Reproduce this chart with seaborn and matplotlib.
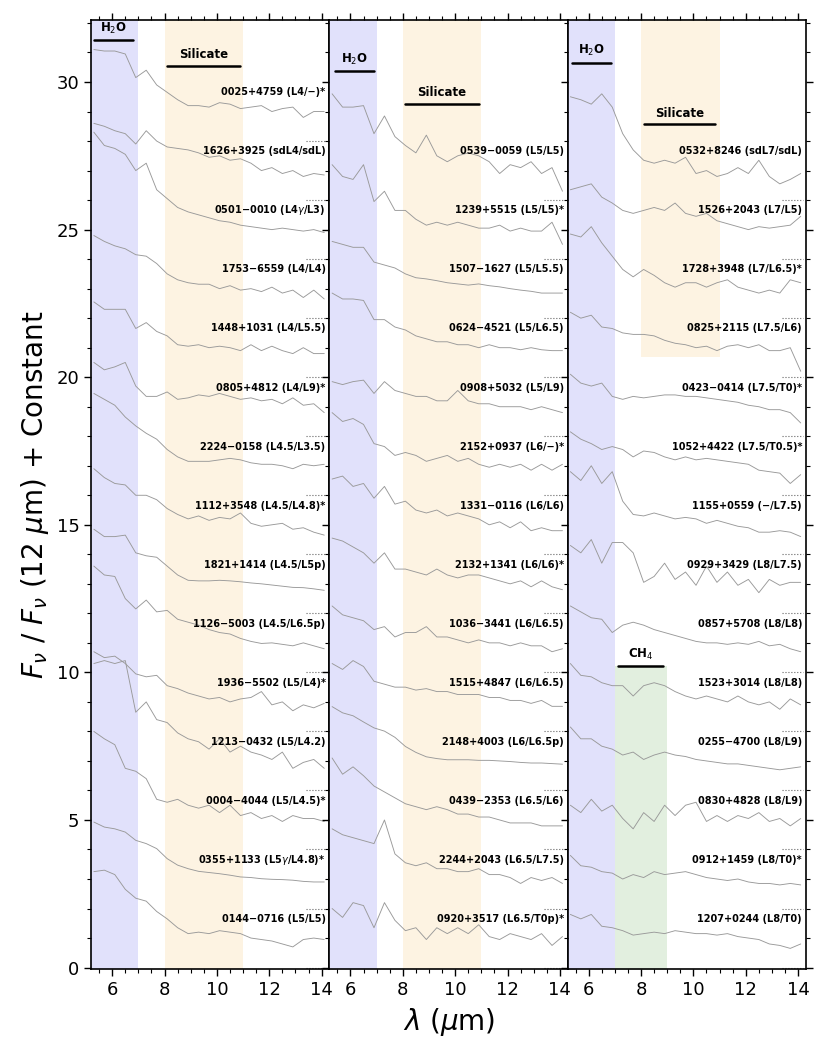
import numpy as np
import seaborn as sns
import matplotlib.pyplot as plt
from matplotlib.ticker import MultipleLocator

# wavelength grid (micron) shared by every spectrum
wave = [5.3, 5.7, 6.1, 6.5, 6.9, 7.3, 7.7, 8.1, 8.5, 8.9, 9.3, 9.7,
        10.1, 10.5, 10.9, 11.3, 11.7, 12.1, 12.5, 12.9, 13.3, 13.7, 14.1]

# panel 1, top to bottom (normalised flux, before the offset)
names_1 = ['0025+4759 (L4/\u2212)*', '1626+3925 (sdL4/sdL)', '0501\u22120010 (L4$\\gamma$/L3)',
           '1753\u22126559 (L4/L4)', '1448+1031 (L4/L5.5)', '0805+4812 (L4/L9)*',
           '2224\u22120158 (L4.5/L3.5)', '1112+3548 (L4.5/L4.8)*', '1821+1414 (L4.5/L5p)',
           '1126\u22125003 (L4.5/L6.5p)', '1936\u22125502 (L5/L4)*', '1213\u22120432 (L5/L4.2)',
           '0004\u22124044 (L5/L4.5)*', '0355+1133 (L5$\\gamma$/L4.8)*', '0144\u22120716 (L5/L5)']
flux_1 = [
    [3.1, 3.05, 3.05, 2.95, 2.15, 2.4, 1.9, 1.65, 1.4, 1.2, 1.2, 1.15, 1.3, 1.25, 1.1, 1.15, 1.2, 1.0, 1.1, 1.15, 0.8, 1.0, 1.0],
    [2.6, 2.5, 2.35, 2.25, 1.9, 2.35, 2.0, 1.8, 1.75, 1.7, 1.6, 1.45, 1.5, 1.35, 1.4, 1.25, 1.0, 1.1, 0.9, 1.0, 0.8, 0.9, 0.85],
    [4.3, 3.85, 3.75, 3.55, 3.0, 3.25, 2.35, 2.05, 1.75, 1.6, 1.5, 1.4, 1.3, 1.25, 1.15, 1.1, 1.05, 1.0, 1.05, 1.0, 0.95, 1.0, 0.9],
    [2.8, 2.6, 2.45, 2.35, 2.15, 2.1, 1.85, 1.5, 1.3, 1.2, 1.15, 1.15, 1.0, 1.1, 0.95, 1.0, 0.9, 1.05, 0.85, 0.95, 0.7, 0.95, 0.65],
    [2.55, 2.3, 2.3, 2.3, 1.65, 1.85, 1.55, 1.4, 1.1, 1.05, 1.1, 1.0, 1.05, 1.0, 0.9, 1.1, 0.9, 1.05, 0.9, 0.8, 1.0, 0.8, 0.8],
    [2.5, 2.25, 2.35, 2.5, 1.7, 1.35, 1.35, 1.5, 1.25, 1.3, 1.4, 1.35, 1.45, 1.35, 1.25, 1.3, 1.2, 1.25, 1.1, 1.3, 1.05, 1.1, 0.8],
    [3.45, 3.25, 3.05, 2.65, 2.35, 2.1, 1.9, 1.55, 1.3, 1.15, 1.15, 1.15, 1.2, 1.25, 1.2, 1.1, 1.05, 1.05, 1.0, 0.9, 1.05, 1.0, 1.05],
    [2.9, 2.6, 2.4, 2.35, 2.0, 2.0, 1.85, 1.55, 1.35, 1.2, 1.3, 1.15, 1.25, 1.2, 1.4, 1.05, 0.95, 1.0, 1.05, 0.85, 0.9, 0.75, 0.65],
    [2.85, 2.6, 2.6, 2.65, 2.05, 1.95, 1.9, 1.6, 1.3, 1.12, 1.1, 1.1, 1.12, 1.1, 1.07, 1.03, 1.0, 0.96, 0.92, 0.88, 0.87, 0.83, 0.78],
    [3.6, 3.3, 3.25, 2.5, 2.15, 2.45, 2.05, 2.1, 1.8, 1.7, 1.6, 1.45, 1.35, 1.3, 1.15, 1.05, 0.98, 1.0, 0.95, 0.9, 1.0, 0.9, 0.8],
    [2.7, 2.5, 2.55, 2.3, 1.95, 1.85, 1.9, 1.55, 1.45, 1.3, 1.2, 1.1, 1.15, 1.0, 1.1, 1.15, 1.35, 0.9, 1.0, 0.7, 0.9, 0.8, 0.95],
    [4.3, 4.4, 4.3, 4.4, 2.65, 3.0, 2.4, 2.3, 1.95, 1.75, 1.65, 1.4, 1.75, 1.3, 1.5, 1.3, 1.2, 1.05, 1.3, 0.75, 0.95, 1.05, 0.75],
    [4.0, 3.75, 3.55, 2.75, 2.65, 2.4, 1.7, 1.6, 1.7, 1.5, 1.4, 1.5, 1.25, 1.5, 1.15, 1.25, 1.05, 1.15, 0.95, 1.15, 1.05, 1.05, 0.95],
    [2.93, 2.76, 2.7, 2.59, 2.31, 2.2, 2.03, 1.69, 1.47, 1.35, 1.26, 1.22, 1.18, 1.13, 1.07, 1.05, 1.01, 0.99, 0.98, 0.96, 0.92, 0.9, 0.9],
    [3.25, 3.3, 3.15, 2.65, 2.35, 2.25, 1.9, 1.65, 1.35, 1.15, 1.2, 1.15, 1.25, 1.2, 1.15, 1.0, 0.95, 0.9, 0.8, 0.7, 0.95, 1.0, 0.95],
]

# panel 2
names_2 = ['0539\u22120059 (L5/L5)', '1239+5515 (L5/L5)*', '1507\u22121627 (L5/L5.5)',
           '0624\u22124521 (L5/L6.5)', '0908+5032 (L5/L9)', '2152+0937 (L6/\u2212)*',
           '1331\u22120116 (L6/L6)', '2132+1341 (L6/L6)*', '1036\u22123441 (L6/L6.5)',
           '1515+4847 (L6/L6.5)', '2148+4003 (L6/L6.5p)', '0439\u22122353 (L6.5/L6)',
           '2244+2043 (L6.5/L7.5)', '0920+3517 (L6.5/T0p)*']
flux_2 = [
    [3.6, 3.15, 3.15, 3.2, 2.25, 2.85, 2.15, 1.85, 1.6, 2.2, 1.5, 1.3, 1.5, 1.6, 1.5, 1.3, 0.9, 1.2, 1.1, 1.3, 0.9, 1.1, 0.3],
    [3.2, 2.8, 2.7, 3.2, 1.95, 2.3, 1.65, 1.65, 1.35, 1.15, 1.25, 1.15, 1.25, 1.15, 1.05, 1.05, 1.15, 0.95, 1.05, 0.95, 0.95, 1.25, 0.5],
    [2.6, 2.5, 2.4, 2.4, 1.9, 1.8, 1.7, 1.5, 1.37, 1.33, 1.27, 1.2, 1.16, 1.12, 1.16, 1.1, 1.06, 1.0, 0.95, 0.91, 0.85, 0.85, 0.85],
    [2.85, 2.65, 2.65, 2.6, 1.95, 1.95, 1.7, 1.6, 1.4, 1.3, 1.2, 1.2, 1.1, 1.1, 1.0, 1.1, 1.0, 1.0, 0.93, 1.0, 0.93, 0.9, 0.9],
    [1.85, 1.75, 1.85, 1.9, 1.45, 1.85, 1.55, 1.45, 1.35, 1.35, 1.2, 1.2, 1.55, 1.2, 1.1, 1.1, 1.0, 1.0, 1.0, 0.9, 1.0, 0.9, 0.8],
    [2.8, 2.5, 2.6, 2.4, 1.75, 1.65, 1.35, 1.45, 1.35, 1.15, 1.25, 1.35, 1.15, 1.25, 1.05, 0.95, 1.05, 0.95, 1.05, 0.85, 1.05, 0.85, 1.05],
    [2.55, 2.65, 2.3, 2.4, 1.9, 2.3, 1.7, 1.8, 1.5, 1.4, 1.5, 1.3, 1.4, 1.3, 1.2, 1.0, 1.1, 0.9, 1.1, 0.8, 0.9, 0.8, 0.8],
    [2.55, 2.45, 2.25, 2.05, 1.7, 2.05, 1.5, 1.5, 1.4, 1.3, 1.5, 1.3, 1.2, 1.3, 1.3, 1.2, 1.1, 1.0, 1.1, 0.9, 1.1, 0.9, 0.8],
    [2.25, 1.95, 1.85, 1.75, 1.45, 1.55, 1.2, 1.35, 1.35, 1.55, 1.2, 1.2, 1.1, 1.0, 1.1, 1.0, 1.0, 0.9, 1.0, 0.9, 0.9, 0.7, 0.8],
    [2.3, 2.1, 2.4, 2.2, 1.7, 1.6, 1.5, 1.5, 1.4, 1.45, 1.35, 1.35, 1.25, 1.25, 1.25, 1.15, 1.15, 1.05, 1.05, 0.95, 1.05, 0.85, 0.85],
    [2.84, 2.63, 2.53, 2.32, 2.12, 2.01, 1.8, 1.49, 1.29, 1.14, 1.08, 1.04, 1.04, 1.04, 1.02, 1.02, 1.0, 0.98, 0.95, 0.93, 0.93, 0.91, 0.89],
    [3.1, 2.55, 2.8, 2.5, 2.15, 1.95, 1.75, 1.55, 1.45, 1.35, 1.45, 1.35, 1.2, 1.2, 1.1, 1.1, 1.0, 0.9, 0.9, 0.9, 0.8, 0.8, 0.8],
    [2.7, 2.5, 2.4, 2.3, 2.2, 3.0, 1.85, 1.55, 1.45, 1.55, 1.35, 1.35, 1.25, 1.25, 1.35, 1.15, 1.15, 1.05, 0.85, 1.05, 0.95, 1.05, 0.85],
    [2.0, 1.7, 2.2, 2.1, 1.35, 2.2, 1.6, 1.25, 1.35, 0.95, 1.35, 1.15, 1.35, 1.15, 1.45, 1.05, 0.95, 1.15, 1.05, 0.95, 1.15, 0.75, 1.05],
]

# panel 3
names_3 = ['0532+8246 (sdL7/sdL)', '1526+2043 (L7/L5)', '1728+3948 (L7/L6.5)*',
           '0825+2115 (L7.5/L6)', '0423\u22120414 (L7.5/T0)*', '1052+4422 (L7.5/T0.5)*',
           '1155+0559 (\u2212/L7.5)', '0929+3429 (L8/L7.5)', '0857+5708 (L8/L8)',
           '1523+3014 (L8/L8)', '0255\u22124700 (L8/L9)', '0830+4828 (L8/L9)',
           '0912+1459 (L8/T0)*', '1207+0244 (L8/T0)']
flux_3 = [
    [3.5, 3.4, 3.25, 3.6, 3.15, 2.25, 1.7, 1.35, 1.25, 1.35, 1.25, 1.45, 0.9, 1.0, 0.8, 0.9, 1.1, 0.9, 1.35, 0.8, 0.55, 0.7, 0.9],
    [2.35, 2.45, 2.55, 2.1, 1.9, 1.65, 1.55, 1.65, 1.75, 1.65, 1.9, 1.55, 1.45, 1.55, 1.3, 1.2, 1.1, 1.0, 1.1, 1.05, 1.1, 1.15, 1.45],
    [2.85, 2.75, 3.1, 2.55, 2.1, 1.65, 1.4, 1.65, 1.45, 1.2, 1.05, 1.2, 1.2, 1.05, 1.2, 1.3, 1.05, 0.95, 0.85, 0.95, 0.85, 1.3, 1.2],
    [2.2, 2.0, 2.1, 1.7, 1.65, 1.5, 1.45, 1.45, 1.4, 1.25, 1.15, 1.1, 1.0, 1.05, 0.9, 1.05, 1.1, 1.0, 1.1, 0.9, 0.9, 1.0, 0.2],
    [2.1, 1.8, 1.7, 1.8, 1.35, 1.25, 1.35, 1.3, 1.35, 1.4, 1.4, 1.35, 1.35, 1.3, 1.25, 1.2, 1.15, 1.05, 1.0, 0.9, 0.9, 0.8, 0.45],
    [2.15, 1.9, 1.75, 1.55, 1.65, 1.55, 1.3, 1.5, 1.45, 1.3, 1.2, 1.3, 1.2, 1.25, 1.2, 1.15, 1.1, 1.05, 0.85, 0.8, 0.75, 0.4, 0.7],
    [2.8, 2.5, 3.0, 2.4, 2.8, 1.8, 1.35, 1.3, 1.4, 1.3, 1.2, 1.25, 1.2, 1.05, 1.15, 1.05, 0.95, 0.9, 0.75, 0.75, 0.8, 0.75, 0.6],
    [2.3, 2.05, 2.5, 1.7, 2.4, 2.4, 2.05, 1.05, 1.25, 1.7, 1.15, 1.4, 0.95, 1.6, 1.05, 1.4, 0.95, 1.15, 0.7, 1.15, 0.95, 1.05, 1.05],
    [2.25, 2.05, 1.85, 1.8, 1.35, 1.6, 1.7, 1.6, 1.45, 1.35, 1.25, 1.15, 1.05, 1.0, 1.0, 0.95, 1.0, 0.95, 1.05, 0.9, 0.95, 0.8, 0.7],
    [2.3, 1.9, 1.85, 1.65, 1.55, 1.55, 1.2, 1.55, 1.65, 1.55, 1.35, 1.2, 1.1, 1.2, 1.1, 1.0, 1.2, 1.0, 0.9, 1.0, 0.75, 1.1, 0.9],
    [2.15, 1.75, 1.75, 1.5, 1.4, 1.2, 1.3, 1.05, 1.2, 1.3, 1.2, 1.15, 1.05, 1.0, 0.95, 0.9, 0.9, 0.85, 0.8, 0.75, 0.7, 0.75, 0.8],
    [1.5, 1.25, 1.7, 1.3, 1.5, 1.05, 0.7, 1.25, 0.95, 1.5, 1.15, 1.5, 1.6, 0.95, 1.15, 0.95, 1.15, 1.05, 1.25, 0.95, 1.05, 0.8, 1.05],
    [1.8, 1.45, 1.4, 1.25, 1.2, 1.0, 1.15, 1.05, 1.25, 1.15, 1.2, 1.25, 1.15, 1.05, 1.0, 0.95, 1.0, 0.9, 0.85, 0.85, 0.8, 0.85, 0.8],
    [1.8, 1.65, 1.8, 1.4, 1.35, 1.25, 1.1, 1.15, 1.2, 1.15, 1.25, 1.2, 1.15, 1.15, 1.1, 1.15, 1.05, 1.0, 0.95, 0.8, 0.75, 0.65, 0.8],
]

sns.set_style('ticks')
plt.rcParams['font.family'] = ['DejaVu Sans']
plt.rcParams['text.color'] = 'k'
plt.rcParams['axes.labelcolor'] = 'k'
plt.rcParams['xtick.color'] = 'k'
plt.rcParams['ytick.color'] = 'k'

c_h2o = '#e1e1fb'
c_sil = '#fdf3e2'
c_ch4 = '#e2efdf'

fig, axes = plt.subplots(1, 3, figsize=(8.22, 10.54), dpi=100, sharey=True)
fig.subplots_adjust(left=0.111, right=0.9805, top=0.981, bottom=0.0806, wspace=0)

ylo, yhi = -0.05, 32.1
panels = [(names_1, flux_1), (names_2, flux_2), (names_3, flux_3)]

for k, (ax, (names, fluxes)) in enumerate(zip(axes, panels)):
    # absorption bands
    ax.axvspan(5.0, 7.0, color=c_h2o, lw=0, zorder=0)
    if k < 2:
        ax.axvspan(8.0, 11.0, color=c_sil, lw=0, zorder=0)
    else:
        ax.fill_between([8.0, 11.0], 20.7, 40, color=c_sil, lw=0, zorder=0)
        ax.fill_between([7.0, 9.0], -1, 10.2, color=c_ch4, lw=0, zorder=0)

    n = len(names)
    for i, (nm, fl) in enumerate(zip(names, fluxes)):
        off = 2 * (n - 1 - i)
        sns.lineplot(x=wave, y=np.array(fl) + off, ax=ax, color='0.6', lw=0.65,
                     estimator=None, sort=False, legend=False)
        ax.plot([13.4, 14.2], [off, off], ls=':', color='0.4', lw=0.8)
        ax.text(14.15, off + 1.65, nm, ha='right', va='center', fontsize=7,
                fontweight='bold', color='k')

    ax.set_xlim(5.2, 14.3)
    ax.set_ylim(ylo, yhi)
    ax.xaxis.set_major_locator(MultipleLocator(2))
    ax.xaxis.set_minor_locator(MultipleLocator(0.5))
    ax.yaxis.set_major_locator(MultipleLocator(5))
    ax.yaxis.set_minor_locator(MultipleLocator(1))
    ax.tick_params(which='both', direction='out', top=True, right=True,
                   labelsize=13, color='k', labelcolor='k')
    ax.tick_params(which='major', length=5, width=1)
    ax.tick_params(which='minor', length=3, width=0.8)
    for s in ax.spines.values():
        s.set_color('k')
        s.set_linewidth(1.2)
    ax.set_xlabel('')
    ax.set_ylabel('')

# band labels
def band_label(ax, x0, x1, y, txt):
    ax.plot([x0, x1], [y, y], color='k', lw=1.8)
    ax.text((x0 + x1) / 2, y + 0.15, txt, ha='center', va='bottom',
            fontsize=8.5, fontweight='bold', color='k')

band_label(axes[0], 5.3, 6.8, 31.42, 'H$_2$O')
band_label(axes[0], 8.1, 10.9, 30.55, 'Silicate')
band_label(axes[1], 5.4, 6.9, 30.36, 'H$_2$O')
band_label(axes[1], 8.1, 10.9, 29.26, 'Silicate')
band_label(axes[2], 5.37, 6.86, 30.65, 'H$_2$O')
band_label(axes[2], 8.11, 10.84, 28.57, 'Silicate')
band_label(axes[2], 7.12, 8.84, 10.2, 'CH$_4$')

axes[0].set_ylabel(r'$F_\nu$ / $F_\nu$ (12 $\mu$m) + Constant', fontsize=20, color='k')
fig.text(0.546, 0.030, r'$\lambda$ ($\mu$m)', ha='center', va='center', fontsize=20, color='k')

plt.savefig('out.png', dpi=100)
plt.close()
